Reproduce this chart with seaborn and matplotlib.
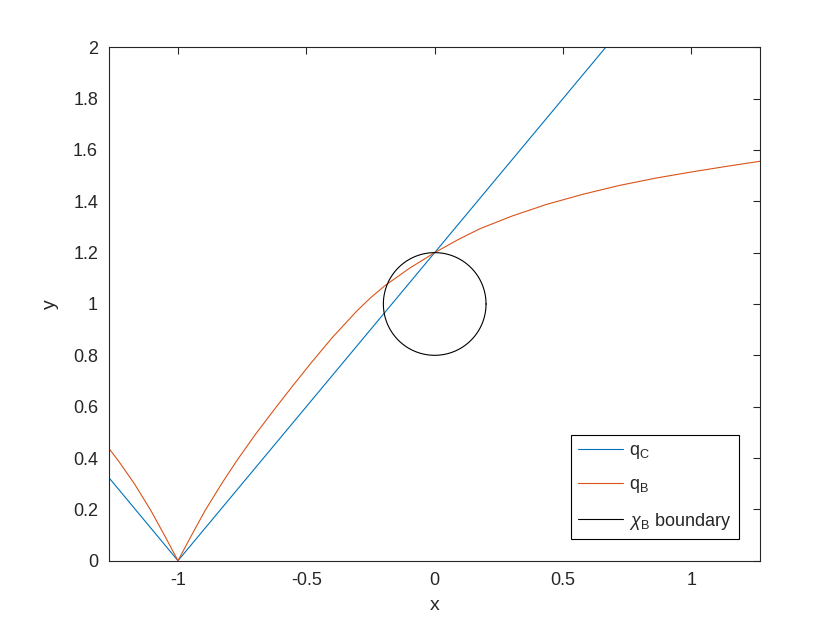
import numpy as np
import pandas as pd
import seaborn as sns
import matplotlib.pyplot as plt

# values
x_qc = [-1.268, -1.0, 1.268]
y_qc = [0.322, 0.0, 2.722]

x_qb = [-1.268, -1.23, -1.17, -1.106, -1.05, -1.0, -0.95, -0.894, -0.83, -0.770,
        -0.70, -0.621, -0.55, -0.481, -0.40, -0.304, -0.25, -0.193, -0.10, 0.0,
        0.09, 0.176, 0.30, 0.436, 0.58, 0.721, 0.86, 0.993, 1.13, 1.268]
y_qb = [0.436, 0.386, 0.300, 0.196, 0.094, 0.0, 0.094, 0.196, 0.300, 0.391,
        0.490, 0.594, 0.685, 0.771, 0.868, 0.972, 1.024, 1.072, 1.138, 1.200,
        1.250, 1.293, 1.342, 1.388, 1.428, 1.462, 1.490, 1.513, 1.535, 1.556]

circle_center = (0.0, 1.0)
circle_radius = 0.2

series_labels = ["q$_{\\rm C}$", "q$_{\\rm B}$", "$\\chi_{\\rm B}$ boundary"]
series_colors = ["#0072BD", "#D95319", "#000000"]

xticks = [-1, -0.5, 0, 0.5, 1]
xtick_labels = ["-1", "-0.5", "0", "0.5", "1"]
yticks = [0, 0.2, 0.4, 0.6, 0.8, 1.0, 1.2, 1.4, 1.6, 1.8, 2.0]
ytick_labels = ["0", "0.2", "0.4", "0.6", "0.8", "1", "1.2", "1.4", "1.6", "1.8", "2"]

sns.set_theme(style="white")
plt.rcParams["font.family"] = ["Liberation Sans", "DejaVu Sans"]
plt.rcParams["mathtext.fontset"] = "custom"
plt.rcParams["mathtext.rm"] = "Liberation Sans"
plt.rcParams["mathtext.it"] = "Liberation Sans:italic"

fig = plt.figure(figsize=(8.4, 6.3), dpi=100)
ax = fig.add_axes([0.13, 0.11, 0.775, 0.815])

theta = np.linspace(0, 2 * np.pi, 300)
circ = pd.DataFrame({"x": circle_center[0] + circle_radius * np.cos(theta),
                     "y": circle_center[1] + circle_radius * np.sin(theta)})

lw = 0.8
sns.lineplot(x=x_qc, y=y_qc, color=series_colors[0], lw=lw, ax=ax, label=series_labels[0])
sns.lineplot(x=x_qb, y=y_qb, color=series_colors[1], lw=lw, ax=ax, label=series_labels[1])
sns.lineplot(data=circ, x="x", y="y", sort=False, estimator=None,
             color=series_colors[2], lw=lw, ax=ax, label=series_labels[2])

ax.set_xlim(-1.268, 1.268)
ax.set_ylim(0, 2)
ax.set_xticks(xticks)
ax.set_xticklabels(xtick_labels)
ax.set_yticks(yticks)
ax.set_yticklabels(ytick_labels)
ax.tick_params(direction="in", length=5, width=0.8, colors="#262626",
               labelsize=13, top=True, right=True, pad=8)
for s in ax.spines.values():
    s.set_color("#262626")
    s.set_linewidth(0.8)
ax.set_xlabel("x", fontsize=14, color="#262626", labelpad=6)
ax.set_ylabel("y", fontsize=14, color="#262626", labelpad=10)

leg = ax.legend(loc="lower right", fontsize=13, frameon=True, fancybox=False,
                edgecolor="black", framealpha=1, handlelength=2.5,
                handletextpad=0.35, borderaxespad=1.2, labelspacing=0.85,
                borderpad=0.4)
leg.get_frame().set_linewidth(0.8)

fig.savefig("out.png", dpi=100)
